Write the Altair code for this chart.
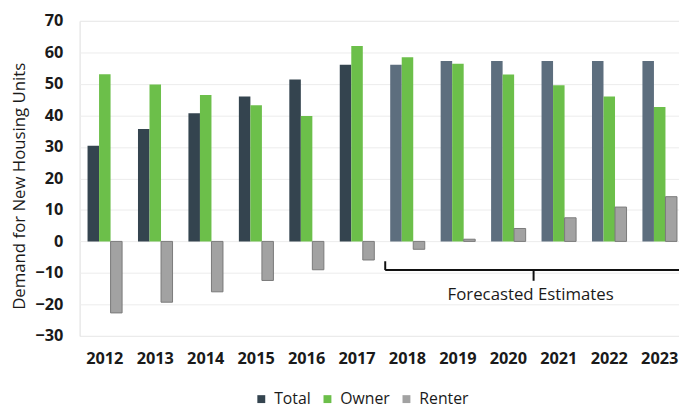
import altair as alt
import pandas as pd

years = ["2012", "2013", "2014", "2015", "2016", "2017",
         "2018", "2019", "2020", "2021", "2022", "2023"]
total = [30.4, 35.7, 40.7, 46.0, 51.4, 56.1, 56.1, 57.3, 57.3, 57.3, 57.3, 57.3]
owner = [53.1, 49.8, 46.5, 43.2, 39.8, 62.0, 58.5, 56.4, 53.0, 49.6, 46.0, 42.7]
renter = [-22.7, -19.3, -16.0, -12.4, -9.0, -5.9, -2.5, 0.7, 4.1, 7.5, 10.9, 14.2]
series = ["Total", "Owner", "Renter"]
colors = ["#34444f", "#6cbf4a", "#a2a2a2"]
forecast_years = ["2018", "2019", "2020", "2021", "2022", "2023"]
y_ticks = [-30, -20, -10, 0, 10, 20, 30, 40, 50, 60, 70]

# bracket annotation (data units)
bracket_y = -9.1
bracket_up = -6.3
bracket_down = -12.5
label_y = -17.0
label_text = "Forecasted Estimates"

rows = []
for i, y in enumerate(years):
    for s, vals in zip(series, [total, owner, renter]):
        rows.append({"year": y, "series": s, "value": vals[i],
                     "forecast": y in forecast_years})
df = pd.DataFrame(rows)

FONT = "Open Sans"

x_scale = alt.Scale(domain=years, range=[0, 613], paddingInner=0, paddingOuter=0)
x_axis = alt.Axis(title=None, labelAngle=0, ticks=False, domain=False,
                  labelFontSize=16.5, labelFontWeight="bold",
                  labelColor="#1a1a1a", labelPadding=15, labelFont=FONT)
y_scale = alt.Scale(domain=[-30, 70], nice=False)
y_axis = alt.Axis(values=y_ticks, title="Demand for New Housing Units",
                  grid=True, gridColor="#ececec", domain=False, ticks=False,
                  labelOverlap=False,
                  labelFontSize=16.5, labelFontWeight="bold", labelColor="#1a1a1a",
                  labelPadding=17, labelFont=FONT,
                  titleFont=FONT, titleFontSize=17, titleFontWeight="normal",
                  titleColor="#1a1a1a", titleAngle=-90, titleX=-61, titleY=167,
                  titleAlign="center", titleBaseline="middle")

bars = alt.Chart(df).mark_bar(strokeWidth=0).encode(
    x=alt.X("year:N", scale=x_scale, axis=x_axis),
    xOffset=alt.XOffset("series:N", sort=series,
                        scale=alt.Scale(domain=series, paddingInner=0, paddingOuter=0.69)),
    y=alt.Y("value:Q", scale=y_scale, axis=y_axis),
    fill=alt.condition(
        "datum.forecast && datum.series == 'Total'",
        alt.value("#5d6e7e"),
        alt.Color("series:N", sort=series,
                  scale=alt.Scale(domain=series, range=colors),
                  legend=alt.Legend(title=None, orient="none", direction="horizontal",
                                    legendX=176, legendY=375, symbolType="square",
                                    symbolSize=64, symbolStrokeWidth=0,
                                    labelFontSize=16, labelFont=FONT,
                                    labelColor="#1a1a1a", labelOffset=5,
                                    columnPadding=8)),
    ),
    stroke=alt.condition("datum.series == 'Renter'", alt.value("#7a7a7a"), alt.value(None)),
    strokeWidth=alt.condition("datum.series == 'Renter'", alt.value(1), alt.value(0)),
)

hline_df = pd.DataFrame({"start": [forecast_years[0]], "end": [forecast_years[-1]],
                         "y": [bracket_y]})
hline = alt.Chart(hline_df).mark_rule(color="#111111", strokeWidth=2, xOffset=3).encode(
    x=alt.X("start:N", bandPosition=0, scale=x_scale, axis=x_axis),
    x2=alt.X2("end:N", bandPosition=1),
    y=alt.Y("y:Q", scale=y_scale, axis=y_axis),
)

ticks_df = pd.DataFrame({
    "year": [forecast_years[0], forecast_years[3], forecast_years[-1]],
    "y1": [bracket_up, bracket_y, bracket_up],
    "y2": [bracket_y, bracket_down, bracket_y],
})


def tick(idx, pos, off):
    return alt.Chart(ticks_df.iloc[[idx]]).mark_rule(
        color="#111111", strokeWidth=2, xOffset=off).encode(
        x=alt.X("year:N", bandPosition=pos, scale=x_scale, axis=x_axis),
        y=alt.Y("y1:Q", scale=y_scale, axis=y_axis), y2="y2:Q")


tick_left = tick(0, 0, 3)
tick_mid = tick(1, 0, 0)
tick_right = tick(2, 1, 0)

label_df = pd.DataFrame({"year": [forecast_years[3]], "y": [label_y], "text": [label_text]})
label = alt.Chart(label_df).mark_text(font=FONT, fontSize=17, color="#1a1a1a",
                                      align="center", baseline="middle", dx=-3).encode(
    x=alt.X("year:N", bandPosition=0, scale=x_scale, axis=x_axis),
    y=alt.Y("y:Q", scale=y_scale, axis=y_axis), text="text:N")

chart = alt.layer(bars, hline, tick_left, tick_mid, tick_right, label).properties(
    width=607, height=319,
    autosize=alt.AutoSizeParams(type="none"),
    padding={"left": 72.5, "top": 10.5, "right": 0, "bottom": 76},
).configure_view(strokeWidth=0, stroke=None).configure(background="white")

chart.save("out.html", embed_options={"renderer": "svg", "actions": False})
